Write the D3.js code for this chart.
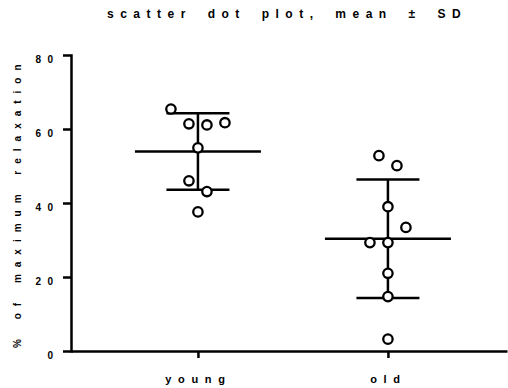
<!DOCTYPE html>
<html>
<head>
<meta charset="utf-8">
<script src="https://cdn.jsdelivr.net/npm/d3@7"></script>
<style>
  body { margin: 0; background: #fff; }
  text { font-family: "Liberation Sans", Arial, sans-serif; font-weight: bold; fill: #000; }
</style>
</head>
<body>
<script>
const groups = ["young", "old"]
const yTicks = [0, 20, 40, 60, 80]

// % of maximum relaxation, per animal
const youngValues = [65.4, 61.4, 61.1, 61.7, 54.9, 46.0, 43.1, 37.6]
const oldValues = [52.8, 50.1, 39.0, 33.4, 29.3, 29.3, 21.0, 14.7, 3.2]

// horizontal dodge slot of each dot (scatter spread)
const youngSlots = [-3, -1, 1, 3, 0, -1, 1, 0]
const oldSlots = [-1, 1, 0, 2, -2, 0, 0, 0, 0]

const width = 508
const height = 388
const margin = {top: 55, right: 1, bottom: 37, left: 71}

const svg = d3.select("body").append("svg")
  .attr("width", width)
  .attr("height", height)

const x = d3.scalePoint()
  .domain(groups)
  .range([margin.left, width - margin.right])
  .padding(0.6474)
  .align(0.516)

const y = d3.scaleLinear()
  .domain([0, 80])
  .range([height - margin.bottom, margin.top])

const slot = d3.scaleLinear().domain([0, 1]).range([0, 9])

const series = [
  {name: "young", values: youngValues, slots: youngSlots},
  {name: "old", values: oldValues, slots: oldSlots}
]
series.forEach(s => {
  s.mean = d3.mean(s.values)
  s.sd = d3.deviation(s.values)
})

// axes
const gy = svg.append("g")
  .attr("transform", `translate(${margin.left},0)`)
  .call(d3.axisLeft(y).tickValues(yTicks).tickSize(8).tickSizeOuter(0).tickPadding(3.5))
gy.select(".domain").attr("stroke-width", 2.5).attr("stroke-linecap", "square")
gy.selectAll(".tick line").attr("stroke-width", 2.5)
gy.selectAll(".tick text")
  .attr("font-size", 10)
  .attr("font-family", null)
  .attr("letter-spacing", 6.5)
  .attr("dy", "0.7em")

const gx = svg.append("g")
  .attr("transform", `translate(0,${y(0)})`)
  .call(d3.axisBottom(x).tickSize(7).tickSizeOuter(0))
gx.select(".domain").attr("stroke-width", 2.5)
gx.selectAll(".tick line").attr("stroke-width", 2.5)
gx.selectAll(".tick text")
  .attr("font-size", 11)
  .attr("font-family", null)
  .attr("letter-spacing", 6.7)
  .attr("y", 24)

// mean and SD bars
const gBars = svg.append("g")
  .attr("stroke", "#000")
  .attr("stroke-width", 2.5)
  .attr("fill", "none")

series.forEach(s => {
  const cx = x(s.name)
  gBars.append("line")
    .attr("x1", cx - 63).attr("x2", cx + 63)
    .attr("y1", y(s.mean)).attr("y2", y(s.mean))
  gBars.append("line")
    .attr("x1", cx).attr("x2", cx)
    .attr("y1", y(s.mean + s.sd)).attr("y2", y(s.mean - s.sd))
  ;[s.mean + s.sd, s.mean - s.sd].forEach(v => {
    gBars.append("line")
      .attr("x1", cx - 31.5).attr("x2", cx + 31.5)
      .attr("y1", y(v)).attr("y2", y(v))
  })
})

// dots
const gDots = svg.append("g")
  .attr("fill", "#fff")
  .attr("stroke", "#000")
  .attr("stroke-width", 2.3)

series.forEach(s => {
  gDots.selectAll(null)
    .data(s.values.map((v, i) => ({v, k: s.slots[i]})))
    .enter().append("circle")
      .attr("cx", d => x(s.name) + slot(d.k))
      .attr("cy", d => y(d.v))
      .attr("r", 4.7)
})

// titles
svg.append("text")
  .attr("x", 107)
  .attr("y", 17.5)
  .attr("font-size", 12)
  .attr("letter-spacing", 6.5)
  .attr("word-spacing", 6)
  .text("scatter dot plot, mean ± SD")

svg.append("text")
  .attr("transform", `translate(20.5,${y(0) - 3}) rotate(-90)`)
  .attr("font-size", 10)
  .attr("letter-spacing", 7)
  .attr("word-spacing", 3)
  .text("% of maximum relaxation")
</script>
</body>
</html>
